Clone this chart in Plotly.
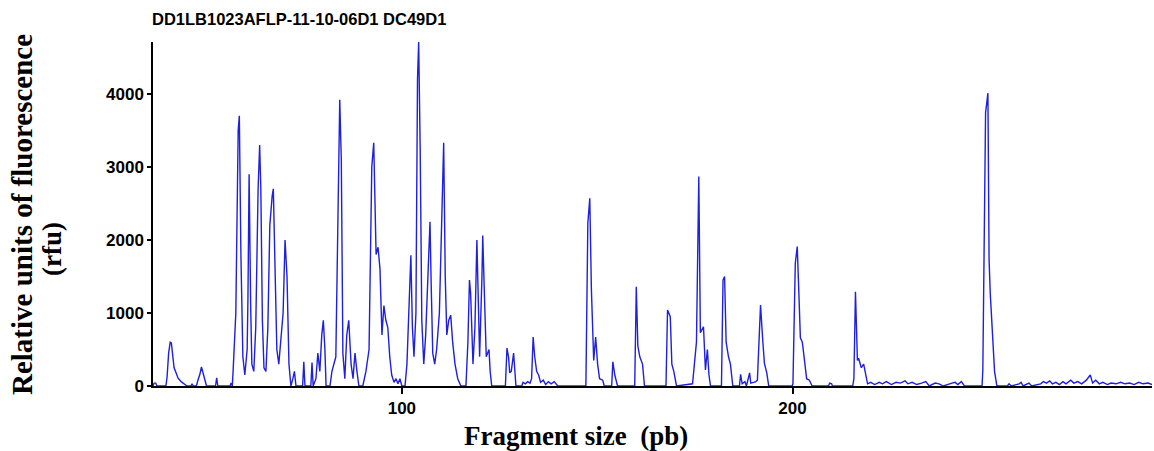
import plotly.graph_objects as go

# Electropherogram trace (fragment size in pb, relative fluorescence in rfu)
fragment_size = [
    36.3, 36.6, 37.0, 37.3, 39.6, 39.9, 40.3, 40.7, 41.0, 41.3, 41.7, 42.2, 42.7, 43.5, 44.2, 45.0,
    46.0, 46.3, 46.6, 47.4, 47.8, 48.3, 48.7, 49.1, 49.5, 50.0, 52.3, 52.6, 52.9, 56.0, 56.3, 56.6,
    56.8, 57.5, 58.1, 58.4, 58.8, 59.3, 59.8, 60.4, 60.6, 60.9, 61.3, 61.6, 62.1, 62.6, 63.2, 63.6,
    63.9, 64.3, 64.7, 65.2, 65.7, 66.2, 66.8, 67.1, 67.5, 68.0, 68.5, 69.0, 69.6, 70.1, 70.6, 71.1,
    71.6, 72.1, 72.5, 72.9, 74.6, 74.9, 75.2, 76.7, 77.0, 77.3, 78.0, 78.5, 79.0, 79.5, 79.9, 80.3,
    80.6, 81.6, 82.1, 83.1, 83.6, 84.1, 84.5, 84.9, 85.4, 85.9, 86.4, 87.0, 87.5, 88.0, 88.5, 89.0,
    90.0, 90.8, 91.6, 92.3, 92.8, 93.4, 93.9, 94.4, 94.9, 95.4, 95.9, 96.4, 96.9, 97.4, 98.0, 98.5,
    99.0, 99.5, 100.0, 100.8, 101.3, 101.8, 102.3, 102.7, 103.1, 103.6, 104.0, 104.3, 104.7, 105.1,
    105.6, 106.1, 106.6, 107.2, 107.5, 107.9, 108.4, 108.9, 109.6, 110.2, 110.7, 111.1, 111.5, 112.0,
    112.5, 113.0, 113.6, 114.3, 115.1, 116.4, 116.9, 117.3, 117.6, 118.2, 118.7, 119.2, 119.6, 119.9,
    120.5, 120.7, 121.1, 121.6, 122.3, 122.6, 123.0, 126.5, 126.9, 127.3, 127.6, 128.0, 128.6, 129.2,
    130.7, 131.0, 131.6, 132.2, 132.8, 133.2, 133.6, 134.0, 134.5, 135.0, 135.5, 136.2, 136.8, 137.5,
    138.2, 139.0, 139.9, 147.1, 147.6, 148.1, 148.5, 149.1, 149.6, 150.1, 150.6, 151.4, 151.8, 153.7,
    154.0, 154.5, 155.2, 159.6, 160.0, 160.4, 160.9, 161.6, 162.1, 167.6, 168.0, 168.7, 169.1, 169.6,
    170.3, 174.4, 175.4, 176.0, 176.4, 177.2, 177.7, 178.2, 178.6, 179.0, 181.8, 182.2, 182.6, 183.0,
    183.6, 184.1, 184.7, 186.4, 186.7, 187.1, 187.8, 188.2, 189.0, 189.3, 190.0, 190.6, 191.0, 191.8,
    192.4, 192.8, 193.4, 193.9, 199.9, 200.1, 200.7, 201.2, 201.5, 202.0, 202.5, 203.1, 203.6, 204.3,
    205.0, 209.2, 209.5, 210.0, 210.2, 215.4, 215.7, 216.1, 216.6, 216.9, 217.6, 218.2, 218.7, 219.2,
    220.0, 221.0, 222.2, 223.0, 224.0, 225.3, 226.5, 227.6, 228.8, 229.5, 230.6, 231.8, 233.0, 234.1,
    235.0, 236.5, 237.5, 238.6, 240.8, 241.6, 242.3, 243.2, 244.0, 248.5, 248.7, 249.4, 250.0, 250.3,
    250.6, 250.9, 251.3, 251.7, 252.3, 255.0, 255.4, 256.0, 258.0, 258.5, 259.0, 260.5, 261.2, 263.5,
    264.2, 265.0, 265.8, 266.5, 267.4, 268.3, 269.2, 270.0, 271.2, 272.0, 273.0, 274.0, 275.2, 276.2,
    276.8, 277.6, 278.5, 279.4, 280.6, 281.5, 282.8, 284.0, 285.1, 286.3, 287.4, 288.6, 289.7, 291.0,
    292.0,
]

rfu = [
    0, 40, 40, 0, 0, 120, 450, 600, 590, 420, 250, 180, 110, 60, 30, 0,
    0, 30, 0, 0, 80, 160, 260, 180, 80, 0, 0, 110, 0, 0, 40, 0,
    200, 1000, 3500, 3700, 1800, 400, 150, 500, 1200, 2900, 1100, 300, 200, 800, 2700, 3300,
    2700, 900, 250, 200, 800, 2200, 2600, 2700, 1700, 500, 300, 600, 1000, 2000, 1500, 300,
    0, 100, 200, 0, 0, 330, 0, 0, 320, 0, 100, 450, 200, 700, 900, 500,
    0, 0, 200, 400, 2400, 3920, 3100, 450, 100, 700, 900, 300, 100, 450, 200, 0,
    0, 200, 500, 3000, 3330, 1800, 1900, 1600, 700, 1100, 900, 800, 400, 150, 50, 100,
    30, 100, 0, 0, 300, 1200, 1790, 800, 400, 1000, 4200, 4710, 3200, 900,
    300, 700, 1400, 2250, 1400, 450, 300, 500, 1000, 2500, 3330, 1500, 700, 900,
    970, 600, 300, 100, 0, 0, 600, 1450, 1270, 300, 800, 2000, 1200, 400,
    1500, 2060, 1300, 400, 500, 200, 0, 0, 520, 400, 180, 200, 450, 0,
    0, 50, 30, 60, 40, 100, 670, 400, 200, 150, 50, 80, 20, 60,
    30, 60, 0, 0, 2230, 2570, 1340, 350, 670, 300, 100, 80, 0, 0,
    330, 150, 0, 0, 1360, 550, 400, 300, 0, 0, 1040, 950, 300, 200,
    0, 30, 600, 2870, 730, 810, 220, 500, 150, 0, 0, 1450, 1500, 600,
    400, 300, 0, 0, 160, 30, 60, 0, 180, 40, 50, 60, 80, 1110,
    600, 310, 180, 0, 0, 30, 1680, 1910, 1450, 660, 600, 300, 100, 80,
    0, 0, 40, 30, 0, 0, 100, 1290, 350, 380, 250, 300, 150, 30,
    50, 20, 50, 30, 60, 20, 50, 40, 70, 30, 50, 20, 40, 60,
    0, 40, 30, 0, 40, 50, 20, 60, 0, 0, 220, 3740, 4010, 1730,
    1270, 1000, 600, 200, 0, 0, 30, 0, 30, 50, 0, 40, 0, 30,
    60, 40, 70, 30, 50, 20, 60, 30, 80, 40, 60, 30, 80, 150,
    40, 80, 30, 50, 20, 40, 30, 50, 30, 40, 20, 50, 30, 40,
    20,
]

x_ticks = [100, 200]
x_tick_labels = ["100", "200"]
y_ticks = [0, 1000, 2000, 3000, 4000]
y_tick_labels = ["0", "1000", "2000", "3000", "4000"]

chart_title = "DD1LB1023AFLP-11-10-06D1 DC49D1"
x_title = "Fragment size  (pb)"
y_title_1 = "Relative units of fluorescence"
y_title_2 = "(rfu)"

sans = "Liberation Sans, Arial, sans-serif"
serif = "Liberation Serif, Times New Roman, DejaVu Serif, serif"

fig = go.Figure()
fig.add_trace(go.Scatter(
    x=fragment_size, y=rfu, mode="lines",
    line=dict(color="#1f1fe0", width=1.4),
    hoverinfo="skip",
))

fig.update_layout(
    width=1154, height=451,
    margin=dict(l=153, r=2, t=42, b=65),
    plot_bgcolor="white", paper_bgcolor="white",
    showlegend=False,
    title=dict(text=chart_title, x=152 / 1154, xanchor="left", y=1 - 19 / 451, yanchor="middle",
               font=dict(family=sans, size=16.5, color="black", weight="bold")),
)

fig.update_xaxes(
    range=[36.3, 292], tickvals=x_ticks, ticktext=x_tick_labels,
    ticks="outside", ticklen=6, tickwidth=1.5, tickcolor="black",
    showline=True, linecolor="black", linewidth=1.5,
    showgrid=False, zeroline=False,
    tickfont=dict(family=sans, size=17, color="black", weight="bold"),
)
fig.update_yaxes(
    range=[0, 4710], tickvals=y_ticks, ticktext=y_tick_labels,
    ticks="outside", ticklen=4, tickwidth=1.5, tickcolor="black",
    showline=True, linecolor="black", linewidth=1.5,
    showgrid=False, zeroline=False,
    tickfont=dict(family=sans, size=17, color="black", weight="bold"),
)

fig.add_annotation(text=x_title, xref="paper", yref="paper", x=(576 - 153) / 999, y=-(436 - 386) / 344,
                   xanchor="center", yanchor="middle", showarrow=False,
                   font=dict(family=serif, size=27, color="black", weight="bold"))
fig.add_annotation(text=y_title_1, xref="paper", yref="paper", x=(22 - 153) / 999, y=(386 - 215) / 344,
                   xanchor="center", yanchor="middle", showarrow=False, textangle=-90,
                   font=dict(family=serif, size=29, color="black", weight="bold"))
fig.add_annotation(text=y_title_2, xref="paper", yref="paper", x=(52 - 153) / 999, y=(386 - 249) / 344,
                   xanchor="center", yanchor="middle", showarrow=False, textangle=-90,
                   font=dict(family=serif, size=27, color="black", weight="bold"))

fig.write_html("out.html", config={"displayModeBar": False},
               post_script="document.body.style.margin='0';")
